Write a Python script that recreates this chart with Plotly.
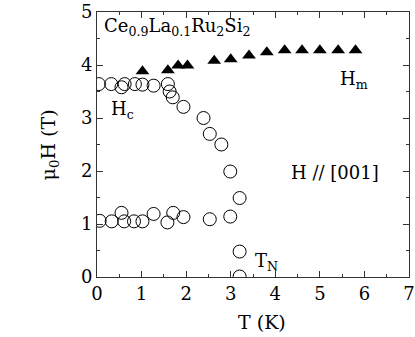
import plotly.graph_objects as go

# open circles: Hc / TN boundary (upper branch + T_N)
hc_T = [0.04, 0.32, 0.55, 0.62, 0.85, 1.02, 1.27, 1.59, 1.63, 1.70, 1.94,
        2.39, 2.53, 2.79, 2.99, 3.20, 3.20, 3.20]
hc_H = [3.64, 3.64, 3.58, 3.64, 3.64, 3.63, 3.61, 3.64, 3.50, 3.39, 3.21,
        3.00, 2.70, 2.50, 1.99, 1.49, 0.48, 0.01]

# open circles: lower branch
low_T = [0.06, 0.33, 0.55, 0.61, 0.83, 1.02, 1.27, 1.58, 1.71, 1.94, 2.53, 2.99]
low_H = [1.06, 1.05, 1.21, 1.05, 1.05, 1.05, 1.19, 1.03, 1.21, 1.13, 1.09, 1.14]

# filled triangles: Hm
hm_T = [1.02, 1.59, 1.82, 2.03, 2.63, 3.00, 3.41, 3.81, 4.21, 4.60, 5.00, 5.41, 5.80]
hm_H = [3.88, 3.90, 3.99, 3.99, 4.08, 4.11, 4.18, 4.24, 4.28, 4.28, 4.28, 4.28, 4.28]

FONT = "DejaVu Serif"
AX = "#333333"

fig = go.Figure()
circle = dict(symbol="circle-open", size=13, color="black", line=dict(width=1))
fig.add_trace(go.Scatter(x=hc_T, y=hc_H, mode="markers", marker=circle))
fig.add_trace(go.Scatter(x=low_T, y=low_H, mode="markers", marker=circle))
fig.add_trace(go.Scatter(x=hm_T, y=hm_H, mode="markers",
                         marker=dict(symbol="triangle-up", size=12, color="black")))

notes = [
    (0.12, 4.72, "Ce<sub>0.9</sub>La<sub>0.1</sub>Ru<sub>2</sub>Si<sub>2</sub>"),
    (0.28, 3.15, "H<sub>c</sub>"),
    (5.4, 3.72, "H<sub>m</sub>"),
    (4.3, 1.98, "H // [001]"),
    (3.5, 0.28, "T<sub>N</sub>"),
]
for x, y, t in notes:
    fig.add_annotation(x=x, y=y, text=t, showarrow=False, xanchor="left",
                       font=dict(family=FONT, size=18, color="black"))

# axis titles placed as paper annotations (plotly's own title placement sits too far out)
title_font = dict(family=FONT, size=19, color="black")
fig.add_annotation(xref="paper", yref="paper", x=-0.151, y=0.5, text="μ<sub>0</sub>H (T)",
                   textangle=-90, showarrow=False, xanchor="center", yanchor="middle",
                   font=title_font)
fig.add_annotation(xref="paper", yref="paper", x=0.529, y=-0.17, text="T (K)",
                   showarrow=False, xanchor="center", yanchor="middle", font=title_font)

axis = dict(showline=True, linecolor=AX, linewidth=1, mirror="ticks",
            ticks="inside", ticklen=6, tickcolor=AX, showgrid=False, zeroline=False,
            automargin=False,
            tickfont=dict(family=FONT, size=18, color="black"),
            minor=dict(dtick=0.5, ticks="inside", ticklen=3, tickcolor=AX))

fig.update_xaxes(axis, range=[0, 7], dtick=1)
fig.update_yaxes(axis, range=[0, 5], dtick=1)

fig.update_layout(width=415, height=337, showlegend=False,
                  margin=dict(l=97, r=6, t=12, b=60),
                  plot_bgcolor="white", paper_bgcolor="white")

# page body has an 8px default margin; drop it so the figure sits at the corner
fig.write_html("out.html", config={"displayModeBar": False},
               post_script="document.body.style.margin='0';")
